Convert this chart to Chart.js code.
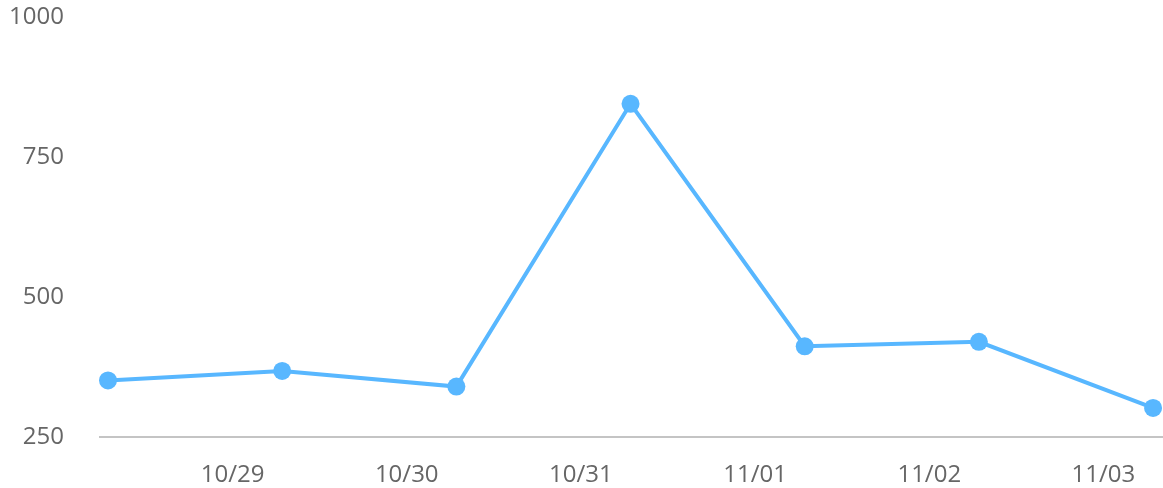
<!DOCTYPE html>
<html>
<head>
<meta charset="utf-8">
<script src="https://cdn.jsdelivr.net/npm/chart.js@4/dist/chart.umd.min.js"></script>
<style>
  html, body { margin: 0; padding: 0; background: #fff; }
  #wrap { width: 1163px; height: 488px; }
</style>
</head>
<body>
<div id="wrap"><canvas id="c" width="1163" height="488"></canvas></div>
<script>
// Data
const pointDays = [0.285, 1.285, 2.285, 3.285, 4.285, 5.285, 6.285]; // days after 10/28 00:00
const values = [351, 368, 340, 845, 412, 420, 302];
const tickDays = [1, 2, 3, 4, 5, 6];
const tickLabels = ['10/29', '10/30', '10/31', '11/01', '11/02', '11/03'];
const yTicks = [250, 500, 750, 1000];

const FONT = "'Open Sans', sans-serif";
const LINE = '#58b7ff';

new Chart(document.getElementById('c'), {
  type: 'line',
  data: {
    datasets: [{
      data: pointDays.map((d, i) => ({ x: d, y: values[i] })),
      borderColor: LINE,
      backgroundColor: LINE,
      borderWidth: 4,
      pointRadius: 9,
      pointBorderWidth: 0,
      pointBackgroundColor: LINE,
      tension: 0,
      fill: false,
      clip: false
    }]
  },
  options: {
    responsive: false,
    animation: false,
    devicePixelRatio: 1,
    layout: { autoPadding: false, padding: { top: 17, right: 0, left: 0, bottom: 0 } },
    plugins: { legend: { display: false }, tooltip: { enabled: false } },
    scales: {
      x: {
        type: 'linear',
        min: 0.239,
        max: 6.342,
        afterBuildTicks: (s) => { s.ticks = tickDays.map(v => ({ value: v })); },
        afterFit: (s) => { s.height = 51; s.paddingLeft = 0; s.paddingRight = 0; },
        ticks: {
          autoSkip: false,
          maxRotation: 0,
          color: '#666',
          font: { family: FONT, size: 24 },
          padding: 24,
          callback: (v) => { const i = tickDays.indexOf(v); return i >= 0 ? tickLabels[i] : ''; }
        },
        grid: { display: false, drawTicks: false },
        border: { display: true, color: '#c4c4c4', width: 2 }
      },
      y: {
        min: 250,
        max: 1000,
        afterBuildTicks: (s) => { s.ticks = yTicks.map(v => ({ value: v })); },
        afterFit: (s) => { s.width = 100; s.paddingTop = 0; s.paddingBottom = 0; },
        ticks: {
          color: '#666',
          font: { family: FONT, size: 24 },
          padding: 36,
          callback: (v) => String(v)
        },
        grid: { display: false, drawTicks: false },
        border: { display: false }
      }
    }
  }
});
</script>
</body>
</html>
